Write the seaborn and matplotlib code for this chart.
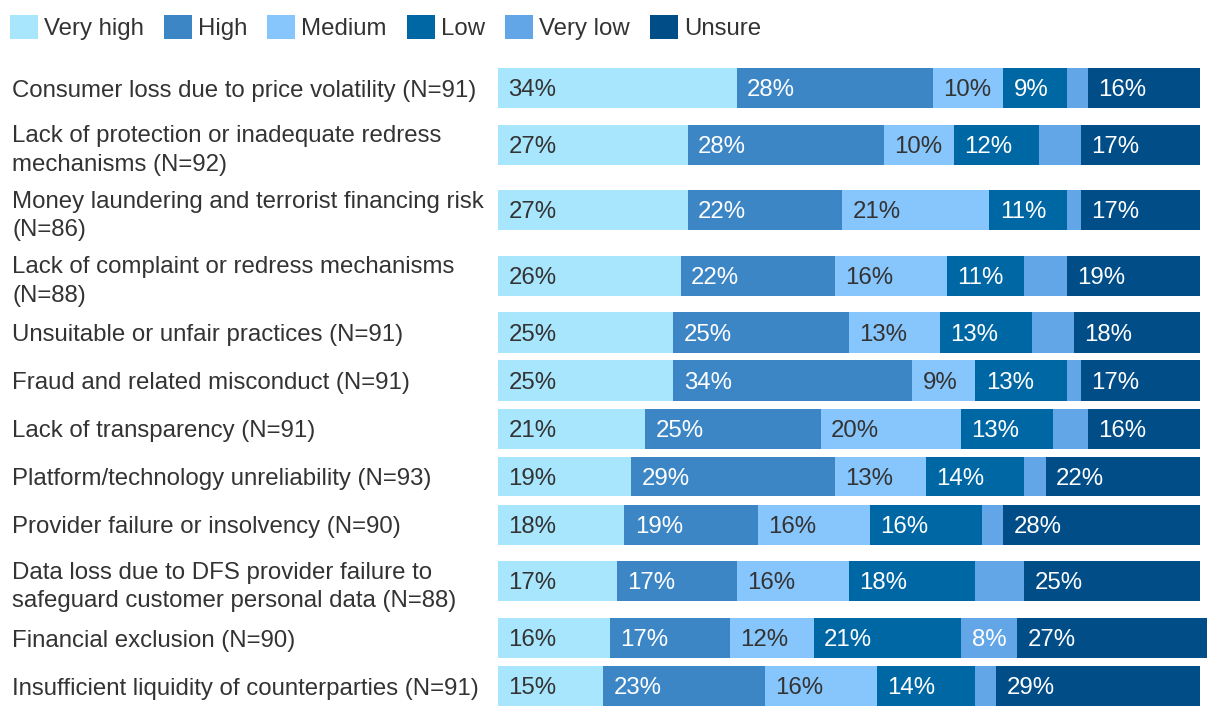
import numpy as np
import pandas as pd
import matplotlib
matplotlib.use("Agg")
import matplotlib.pyplot as plt
from matplotlib.patches import Patch
import seaborn as sns

categories = [
    "Consumer loss due to price volatility (N=91)",
    "Lack of protection or inadequate redress\nmechanisms (N=92)",
    "Money laundering and terrorist financing risk\n(N=86)",
    "Lack of complaint or redress mechanisms\n(N=88)",
    "Unsuitable or unfair practices (N=91)",
    "Fraud and related misconduct (N=91)",
    "Lack of transparency (N=91)",
    "Platform/technology unreliability (N=93)",
    "Provider failure or insolvency (N=90)",
    "Data loss due to DFS provider failure to\nsafeguard customer personal data (N=88)",
    "Financial exclusion (N=90)",
    "Insufficient liquidity of counterparties (N=91)",
]
series = ["Very high", "High", "Medium", "Low", "Very low", "Unsure"]
very_high = [34, 27, 27, 26, 25, 25, 21, 19, 18, 17, 16, 15]
high      = [28, 28, 22, 22, 25, 34, 25, 29, 19, 17, 17, 23]
medium    = [10, 10, 21, 16, 13, 9, 20, 13, 16, 16, 12, 16]
low       = [9, 12, 11, 11, 13, 13, 13, 14, 16, 18, 21, 14]
very_low  = [3, 6, 2, 6, 6, 2, 5, 3, 3, 7, 8, 3]
unsure    = [16, 17, 17, 19, 18, 17, 16, 22, 28, 25, 27, 29]

colors = ["#a8e6fd", "#3c86c6", "#87c6fc", "#0067a5", "#62a6e8", "#004d88"]
text_colors = ["#333333", "#ffffff", "#333333", "#ffffff", "#ffffff", "#ffffff"]

values = np.array([very_high, high, medium, low, very_low, unsure], dtype=float)
cum = np.cumsum(values, axis=0)
starts = cum - values

FS = 17.3
plt.rcParams["font.family"] = ["Liberation Sans", "DejaVu Sans"]
sns.set_style("white")
plt.rcParams["font.family"] = ["Liberation Sans", "DejaVu Sans"]

W, H = 1220, 718
fig = plt.figure(figsize=(W / 100, H / 100), dpi=100)
px_per_pct = 7.02
ax_left, ax_right, ax_top, ax_bot = 498, 1210, 64, 710
ax = fig.add_axes([ax_left / W, 1 - ax_bot / H, (ax_right - ax_left) / W, (ax_bot - ax_top) / H])

# row layout: one-line labels take one unit, two-line labels take more
unit_h = [1.0 if c.count("\n") == 0 else 65.5 / 48 for c in categories]
pos = np.cumsum(unit_h) - np.array(unit_h) / 2

for k in range(len(series) - 1, -1, -1):
    df = pd.DataFrame({"y": pos, "x": cum[k]})
    sns.barplot(data=df, x="x", y="y", orient="y", native_scale=True,
                color=colors[k], saturation=1, width=40 / 48, errorbar=None,
                linewidth=0, ax=ax)

for k in range(len(series)):
    for i in range(len(categories)):
        v = values[k, i]
        if v >= 8:
            ax.annotate(f"{int(v)}%", xy=(starts[k, i], pos[i]), xytext=(7.4, -1.6),
                        textcoords="offset points", ha="left", va="center",
                        fontsize=FS, color=text_colors[k])

ax.set_xlim(0, (ax_right - ax_left) / px_per_pct)
ax.set_ylim((ax_bot - ax_top) / 48, 0)
ax.set_yticks(pos)
ax.set_yticklabels(categories, fontsize=FS, color="#333333", ha="left",
                   multialignment="left", linespacing=1.38)
ax.tick_params(axis="y", length=0, pad=(ax_left - 12) * 0.72)
ax.set_xticks([])
ax.set_xlabel("")
ax.set_ylabel("")
for s in ax.spines.values():
    s.set_visible(False)

handles = [Patch(facecolor=c, edgecolor="none", label=s) for c, s in zip(colors, series)]
fs_px = FS / 72 * 100
fig.legend(handles=handles, loc="upper left", bbox_to_anchor=(10 / W, 1 - 15 / H),
           ncol=6, frameon=False, borderpad=0, borderaxespad=0,
           handlelength=28 / fs_px, handleheight=28 / fs_px,
           handletextpad=6 / fs_px, columnspacing=20 / fs_px,
           prop={"size": FS}, labelcolor="#333333")

fig.savefig("out.png", dpi=100)
